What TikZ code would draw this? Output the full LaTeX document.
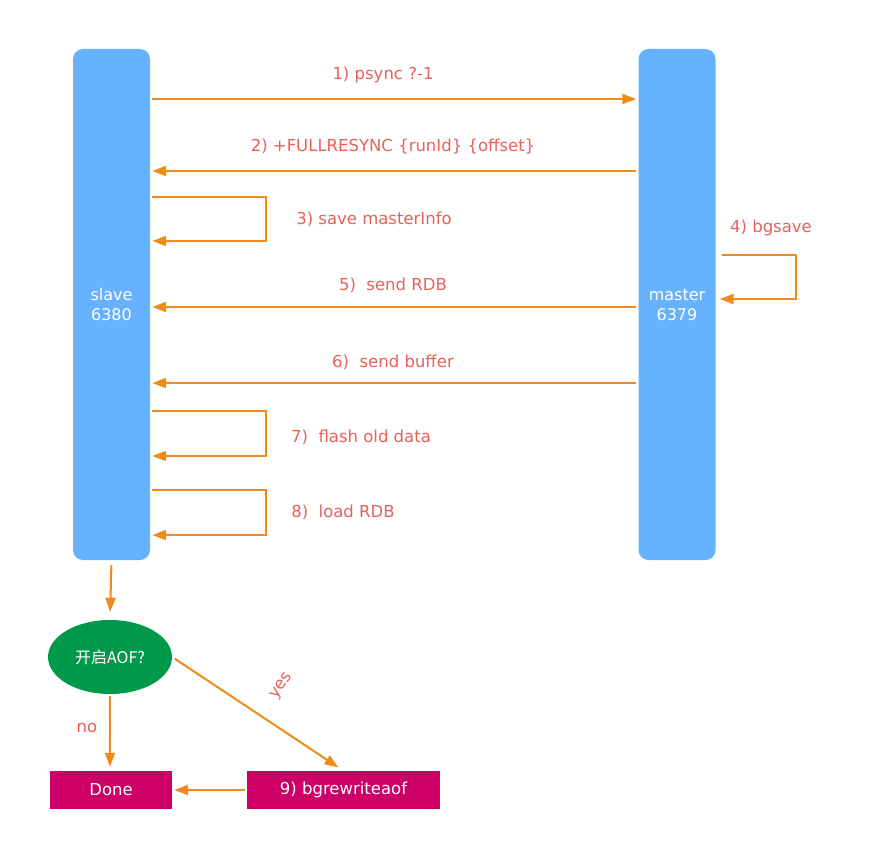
\documentclass[tikz,border=0pt]{standalone}
\usepackage{fontspec}
\setmainfont{DejaVu Sans}
\newfontfamily\cjk{Noto Sans CJK SC}
\usetikzlibrary{arrows.meta,positioning,calc,shapes.geometric}
\definecolor{srvblue}{HTML}{66B2FF}
\definecolor{arrorange}{HTML}{F28A1A}
\definecolor{lblred}{HTML}{E8605A}
\definecolor{aofgreen}{HTML}{00994C}
\definecolor{endpink}{HTML}{CC0066}

\begin{document}
\begin{tikzpicture}[x=1pt, y=-1pt, >={Triangle[length=14pt,width=10pt]},
 srv/.style={fill=srvblue, rounded corners=10pt, minimum width=77pt, minimum height=511pt, text=white, align=center, font=\fontsize{16}{20}\selectfont},
 msg/.style={->, draw=arrorange, line width=2pt, shorten <=2pt, shorten >=2pt},
 lbl/.style={text=lblred, font=\fontsize{16.5}{18}\selectfont},
 res/.style={fill=endpink, text=white, minimum height=38pt, font=\fontsize{16.5}{18}\selectfont}]
\useasboundingbox (0,0) rectangle (879,843);
\node[srv] (slave) at (111.5,304.5) {slave\\ 6380};
\node[srv] (master) at (677,304.5) {master\\ 6379};
% slave <-> master
\draw[msg] (slave.east |- 0,99) -- (master.west |- 0,99);
\node[lbl] (l1) at (383,75) {1) psync ?-1};
\draw[msg] (master.west |- 0,171) -- (slave.east |- 0,171);
\node[lbl] (l2) at (393,147) {2) +FULLRESYNC \{runId\} \{offset\}};
\draw[msg] (slave.east |- 0,197) -- (266,197) |- (slave.east |- 0,241);
\node[lbl] (l3) at (374,219) {3) save masterInfo};
\draw[msg, shorten <=6pt, shorten >=4pt] (master.east |- 0,255) -- (796,255) |- (master.east |- 0,299);
\node[lbl] (l4) at (771,228) {4) bgsave};
\draw[msg] (master.west |- 0,307) -- (slave.east |- 0,307);
\node[lbl] (l5) at (393,285) {5)\ \ send RDB};
\draw[msg] (master.west |- 0,383) -- (slave.east |- 0,383);
\node[lbl] (l6) at (393,362) {6)\ \ send buffer};
\draw[msg] (slave.east |- 0,411) -- (266,411) |- (slave.east |- 0,456);
\node[lbl] (l7) at (361,437) {7)\ \ flash old data};
\draw[msg] (slave.east |- 0,490) -- (266,490) |- (slave.east |- 0,535);
\node[lbl] (l8) at (343,512) {8)\ \ load RDB};
% AOF
\node[ellipse, fill=aofgreen, text=white, minimum width=124pt, minimum height=74pt, inner sep=0pt, font=\cjk\fontsize{16}{18}\selectfont] (aof) at (110,657) {开启AOF?};
\node[res, minimum width=122pt] (done) at (111,790) {Done};
\node[res, minimum width=193pt] (rewrite) at (343.5,790) {9) bgrewriteaof};
\draw[msg, shorten <=5pt, shorten >=8pt] (slave.south) -- (aof.north);
\draw[msg, shorten >=4pt] (aof.south) -- (aof.south |- done.north);
\node[lbl] (no) at (87,728) {no};
\draw[msg, shorten <=3pt, shorten >=6pt] (aof.east) -- (rewrite.north);
\node[lbl, rotate=55, inner sep=1pt] (yes) at (282,686) {yes};
\draw[msg] (rewrite.west) -- (done.east);
\end{tikzpicture}
\end{document}
